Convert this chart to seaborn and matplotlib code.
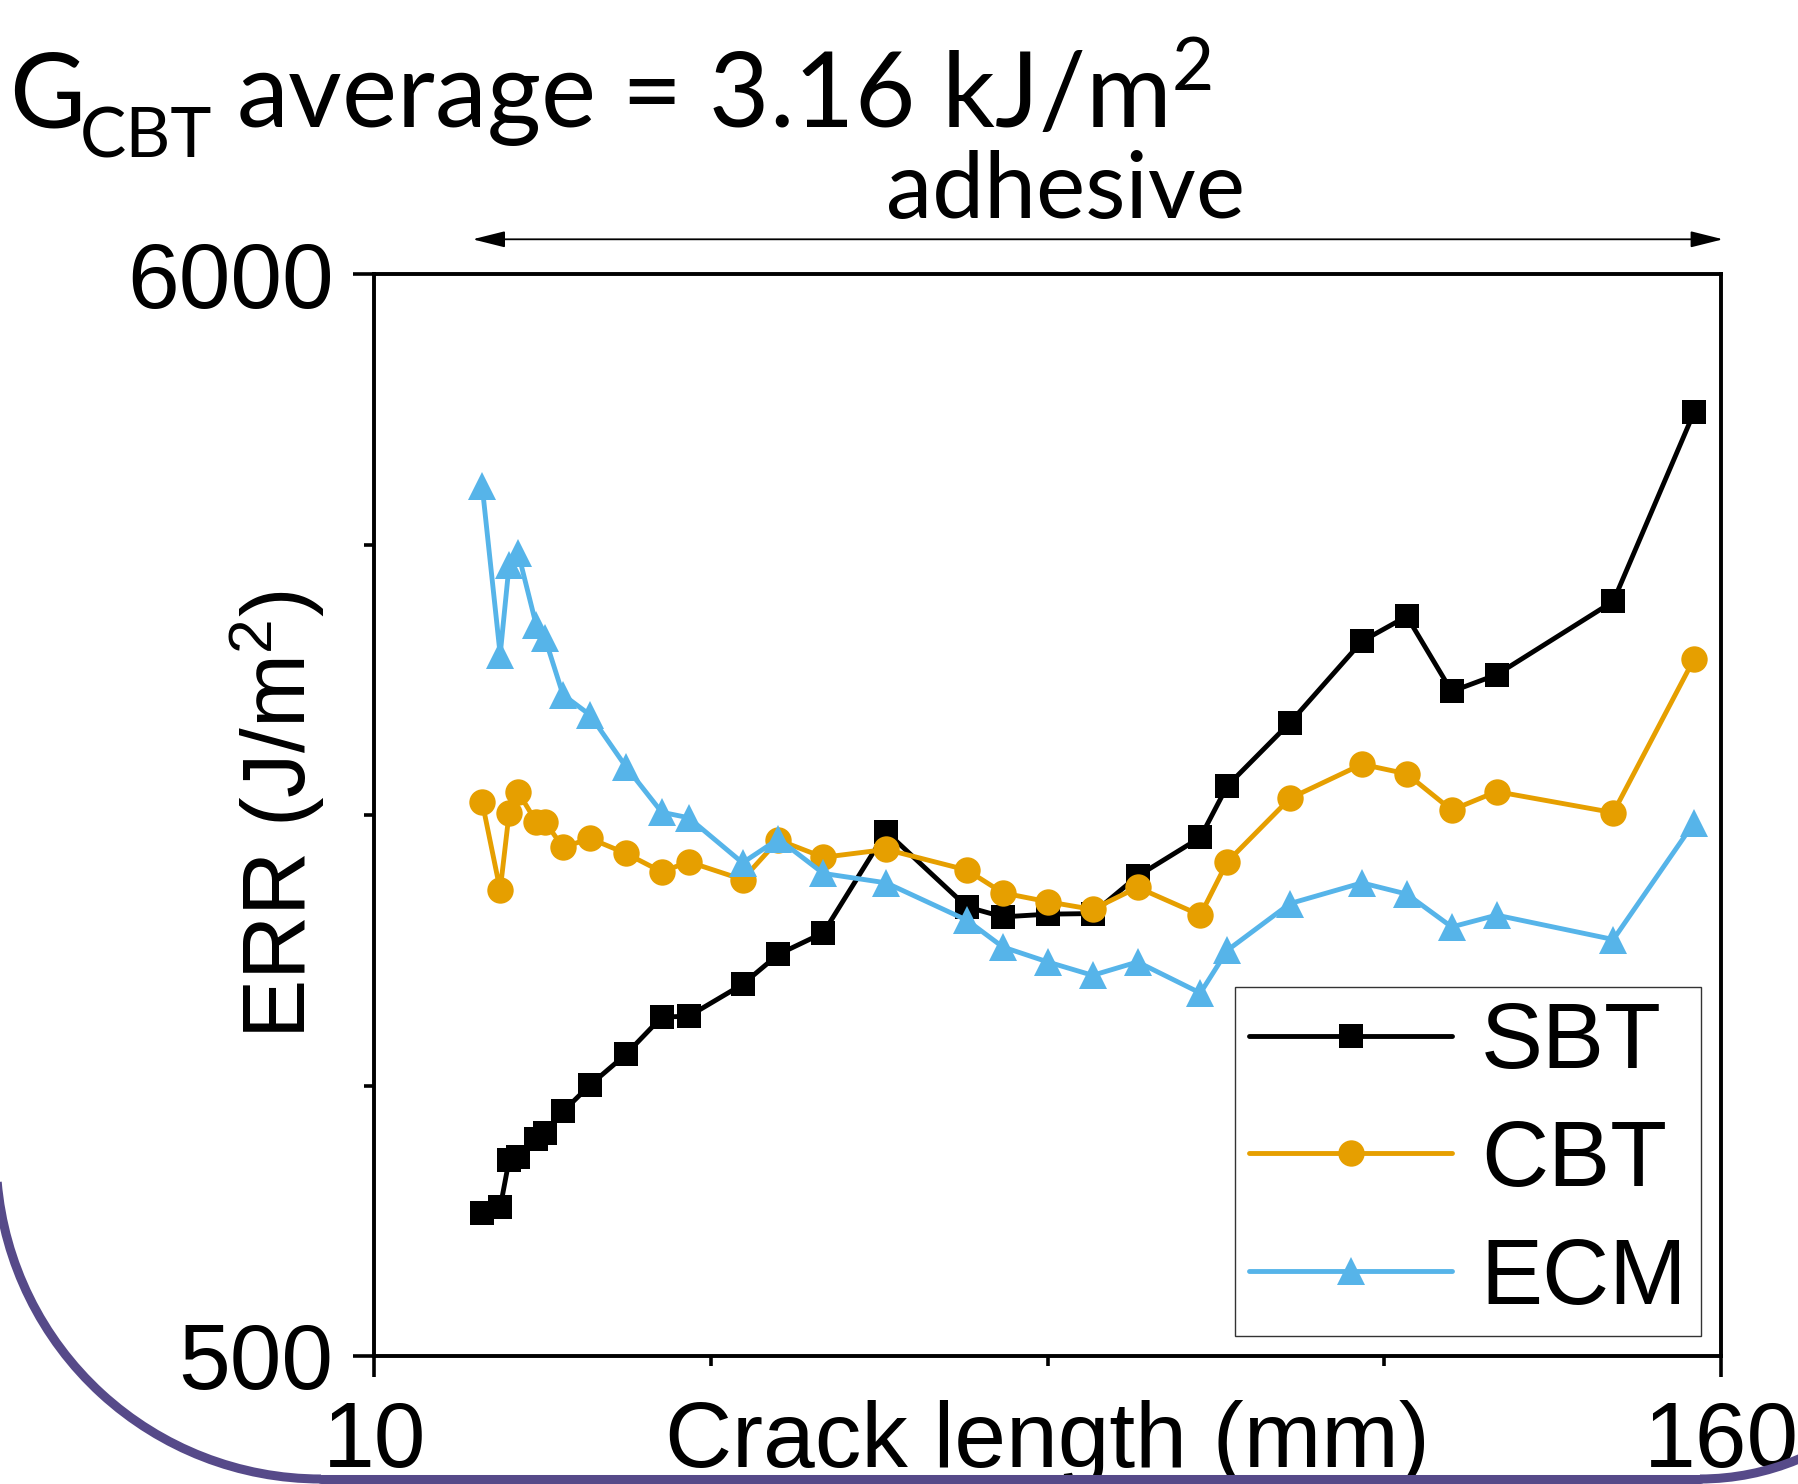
import matplotlib

matplotlib.use("Agg", force=True)
import matplotlib.pyplot as plt
import pandas as pd
import seaborn as sns
from matplotlib.lines import Line2D
from matplotlib.patches import Arc, ArrowStyle, FancyArrowPatch
from matplotlib.ticker import FixedLocator

# crack length (mm), same positions for all three reductions
CRACK_LENGTH = [22, 24, 25, 26, 28, 29, 31, 34, 38, 42, 45, 51, 55, 60, 67,
                76, 80, 85, 90, 95, 102, 105, 112, 120, 125, 130, 135, 148, 157]
SBT = [1225, 1255, 1497, 1510, 1602, 1636, 1743, 1877, 2033, 2223, 2227, 2389, 2542, 2651, 3165,
       2783, 2732, 2746, 2749, 2939, 3136, 3398, 3720, 4133, 4260, 3878, 3963, 4336, 5297]
CBT = [3315, 2868, 3262, 3367, 3216, 3216, 3085, 3131, 3055, 2961, 3012, 2922, 3123, 3035, 3075,
       2970, 2854, 2809, 2770, 2882, 2741, 3012, 3335, 3508, 3459, 3275, 3369, 3262, 4043]
ECM = [4920, 4065, 4523, 4583, 4218, 4148, 3861, 3759, 3496, 3264, 3236, 3007, 3128, 2953, 2905,
       2715, 2579, 2503, 2435, 2503, 2345, 2562, 2800, 2905, 2848, 2681, 2741, 2617, 3211]
METHODS = ["SBT", "CBT", "ECM"]

X_MAJOR = [10, 160]
X_MINOR = [47.5, 85, 122.5]
Y_MAJOR = [500, 6000]
Y_MINOR = [1875, 3250, 4625]

TITLE_MAIN = "G"
TITLE_SUB = "CBT"
TITLE_REST = r"average = 3.16 kJ/m$^{\mathregular{2}}$"
REGION = "adhesive"

STYLES = {
    "SBT": dict(color="black", marker="s", markersize=17.3),
    "CBT": dict(color="#E69F00", marker="o", markersize=19),
    "ECM": dict(color="#56B4E9", marker="^", markersize=20.5),
}

W, H = 1799, 1484


def fx(px):
    return px / W


def fy(py):
    return 1 - py / H


def main():
    sns.set_style("ticks")
    plt.rcParams["font.family"] = ["Liberation Sans", "DejaVu Sans"]
    plt.rcParams["mathtext.default"] = "regular"
    for key in ["text.color", "axes.labelcolor", "xtick.color", "ytick.color", "axes.edgecolor"]:
        plt.rcParams[key] = "black"

    df = pd.DataFrame({
        "crack": CRACK_LENGTH * 3,
        "err": SBT + CBT + ECM,
        "method": [m for m in METHODS for _ in CRACK_LENGTH],
    })

    fig = plt.figure(figsize=(W / 100, H / 100), dpi=100)
    ax = fig.add_axes([fx(374.5), fy(1356), fx(1721) - fx(374.5), fy(274) - fy(1356)])

    for m in METHODS:
        st = STYLES[m]
        sns.lineplot(data=df[df["method"] == m], x="crack", y="err", ax=ax,
                     color=st["color"], marker=st["marker"], markersize=st["markersize"],
                     markeredgecolor=st["color"], markeredgewidth=0, linewidth=3.5,
                     errorbar=None, label=m)

    ax.set_xlim(10, 160)
    ax.set_ylim(500, 6000)
    ax.xaxis.set_major_locator(FixedLocator(X_MAJOR))
    ax.xaxis.set_minor_locator(FixedLocator(X_MINOR))
    ax.yaxis.set_major_locator(FixedLocator(Y_MAJOR))
    ax.yaxis.set_minor_locator(FixedLocator(Y_MINOR))
    ax.tick_params(which="major", direction="out", length=15, width=2.6, labelsize=67)
    ax.tick_params(which="minor", direction="out", length=7.2, width=2.6)
    ax.tick_params(axis="x", which="major", pad=16.5)
    ax.tick_params(axis="y", which="major", pad=14.4)
    for sp in ax.spines.values():
        sp.set_visible(True)
        sp.set_linewidth(2.8)
        sp.set_color("black")

    ax.set_xlabel("Crack length (mm)", fontsize=67)
    ax.xaxis.set_label_coords(0.5, -0.0407)
    ax.set_ylabel("ERR (J/m$^2$)", fontsize=64)
    ax.yaxis.set_label_coords(-0.035, 0.5)

    leg = ax.legend(loc="lower right", fontsize=67, frameon=True, fancybox=False,
                    edgecolor="#333333", framealpha=1, borderpad=0.15, labelspacing=0.34,
                    handlelength=2.18, handletextpad=0.31, borderaxespad=0.21)
    leg.get_frame().set_linewidth(1.0)

    # title-like annotations above the axes
    lato = ["Lato", "DejaVu Sans"]
    fig.text(fx(9), fy(128), TITLE_MAIN, family=lato, fontsize=75, ha="left", va="baseline")
    fig.text(fx(80), fy(157), TITLE_SUB, family=lato, fontsize=50, ha="left", va="baseline")
    fig.text(fx(236), fy(128), TITLE_REST, family=lato, fontsize=75, ha="left", va="baseline")
    fig.text(fx(886), fy(218), REGION, family=lato, fontsize=67, ha="left", va="baseline")
    arrow = FancyArrowPatch((fx(472.6), fy(239.3)), (fx(1723), fy(239.3)),
                            transform=fig.transFigure,
                            arrowstyle=ArrowStyle("<|-|>", head_length=0.4, head_width=0.1),
                            mutation_scale=50, lw=1.3, color="black", shrinkA=0, shrinkB=0)
    fig.add_artist(arrow)

    # slide background frame (purple rounded border at the bottom)
    purple = "#564A89"
    r1, r2 = 325, 255
    fig.add_artist(Arc((fx(321), fy(1154)), 2 * r1 / W, 2 * r1 / H, theta1=186, theta2=270,
                       transform=fig.transFigure, color=purple, lw=6.5))
    fig.add_artist(Line2D([fx(321), fx(1700)], [fy(1479), fy(1479)],
                          transform=fig.transFigure, color=purple, lw=6.5))
    fig.add_artist(Arc((fx(1700), fy(1224)), 2 * r2 / W, 2 * r2 / H, theta1=270, theta2=360,
                       transform=fig.transFigure, color=purple, lw=6.5))

    fig.savefig("out.png", dpi=100)
    plt.close(fig)


if __name__ == "__main__":
    main()
